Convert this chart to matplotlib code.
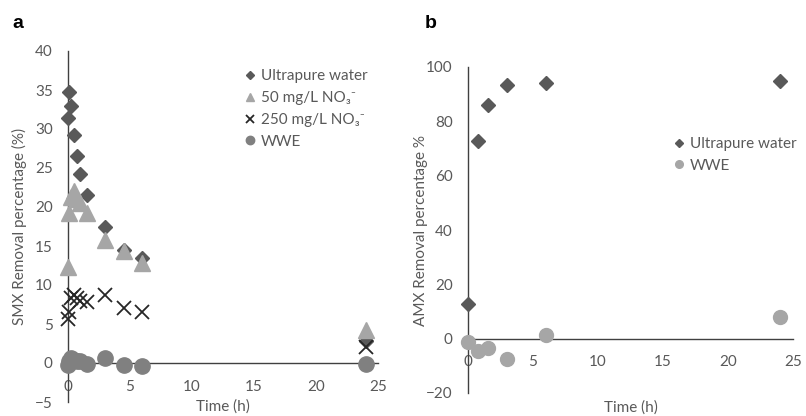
import matplotlib
matplotlib.use("Agg")
import matplotlib.pyplot as plt

plt.rcParams['font.family'] = ['Lato', 'DejaVu Sans']

# --- Panel a: SMX removal (%) ---
t_a = [0, 0.083, 0.25, 0.5, 0.75, 1, 1.5, 3, 4.5, 6, 24]
smx_ultrapure = [31.4, 34.8, 33.0, 29.2, 26.5, 24.2, 21.5, 17.4, 14.5, 13.5, 2.8]
smx_no3_50 = [12.3, 19.2, 21.3, 22.0, 21.0, 20.5, 19.2, 15.8, 14.4, 12.8, 4.2]
smx_no3_250 = [5.6, 6.6, 8.3, 8.7, 8.3, 8.0, 7.8, 8.7, 7.0, 6.5, 2.1]
smx_wwe = [-0.3, 0.2, 0.6, 0.4, 0.3, 0.2, -0.1, 0.6, -0.3, -0.4, -0.1]

# --- Panel b: AMX removal (%) ---
t_b = [0, 0.75, 1.5, 3, 6, 24]
amx_ultrapure = [12.6, 72.6, 85.9, 93.3, 94.1, 94.8]
amx_wwe = [-1.1, -4.4, -3.3, -7.4, 1.5, 8.1]

labels_a = ['Ultrapure water', '50 mg/L NO₃⁻', '250 mg/L NO₃⁻', 'WWE']
labels_b = ['Ultrapure water', 'WWE']

DARK = '#595959'
LIGHT = '#a6a6a6'
MID = '#808080'
TXT = '#595959'
AXC = '#404040'

fig = plt.figure(figsize=(8.06, 4.16), dpi=100)
ax_a = fig.add_axes([68 / 806, 14 / 416, 310 / 806, 351 / 416])
ax_b = fig.add_axes([468 / 806, 23 / 416, 325 / 806, 326 / 416])


def style(ax, ylim, yticks):
    ax.set_xlim(0, 25)
    ax.set_ylim(*ylim)
    ax.set_xticks([0, 5, 10, 15, 20, 25])
    ax.set_yticks(yticks)
    for s in ['top', 'right']:
        ax.spines[s].set_visible(False)
    ax.spines['bottom'].set_position(('data', 0))
    for s in ['left', 'bottom']:
        ax.spines[s].set_color(AXC)
        ax.spines[s].set_linewidth(1.0)
    ax.tick_params(axis='both', length=0, labelsize=11, colors=TXT)
    ax.tick_params(axis='x', pad=12)
    ax.tick_params(axis='y', pad=11)
    ax.patch.set_alpha(0)


style(ax_a, (-5, 40), range(-5, 41, 5))
ax_a.plot(t_a, smx_ultrapure, 'D', ms=7.5, color=DARK, clip_on=False, zorder=3, label=labels_a[0])
ax_a.plot(t_a, smx_no3_50, '^', ms=11, color=LIGHT, clip_on=False, zorder=3, label=labels_a[1])
ax_a.plot(t_a, smx_no3_250, 'x', ms=10, mew=1.3, color='#262626', clip_on=False, zorder=3, label=labels_a[2])
ax_a.plot(t_a, smx_wwe, 'o', ms=11, color=MID, clip_on=False, zorder=3, label=labels_a[3])
ax_a.set_ylabel('SMX Removal percentage (%)', fontsize=11, color=TXT)
ax_a.yaxis.set_label_coords(-0.132, 0.5)
ax_a.set_xlabel('Time (h)', fontsize=11, color=TXT)
ax_a.xaxis.set_label_coords(0.5, 0.008)

style(ax_b, (-20, 100), range(-20, 101, 20))
ax_b.plot(t_b, amx_ultrapure, 'D', ms=7, color=DARK, clip_on=False, zorder=3, label=labels_b[0])
ax_b.plot(t_b, amx_wwe, 'o', ms=10, color=LIGHT, clip_on=False, zorder=3, label=labels_b[1])
ax_b.set_ylabel('AMX Removal percentage %', fontsize=11, color=TXT)
ax_b.yaxis.set_label_coords(-0.123, 0.5)
ax_b.set_xlabel('Time (h)', fontsize=11, color=TXT)
ax_b.xaxis.set_label_coords(0.5, -0.022)

leg_a = ax_a.legend(loc='upper left', bbox_to_anchor=(244 / 806, 1 - 69 / 416),
                    bbox_transform=fig.transFigure, frameon=False, fontsize=11,
                    markerscale=0.55, handlelength=0.8, handletextpad=0.3,
                    labelspacing=0.52, borderpad=0, borderaxespad=0)
for txt in leg_a.get_texts():
    txt.set_color(TXT)

leg_b = ax_b.legend(loc='upper left', bbox_to_anchor=(673 / 806, 1 - 137 / 416),
                    bbox_transform=fig.transFigure, frameon=False, fontsize=11,
                    markerscale=0.55, handlelength=0.8, handletextpad=0.3,
                    labelspacing=0.5, borderpad=0, borderaxespad=0)
for txt in leg_b.get_texts():
    txt.set_color(TXT)

fig.text(18 / 806, 1 - 23 / 416, 'a', fontsize=14, fontweight='bold', ha='center', va='center',
         family=['Liberation Sans', 'DejaVu Sans'])
fig.text(431 / 806, 1 - 23 / 416, 'b', fontsize=14, fontweight='bold', ha='center', va='center',
         family=['Liberation Sans', 'DejaVu Sans'])

fig.savefig('out.png', dpi=100)
